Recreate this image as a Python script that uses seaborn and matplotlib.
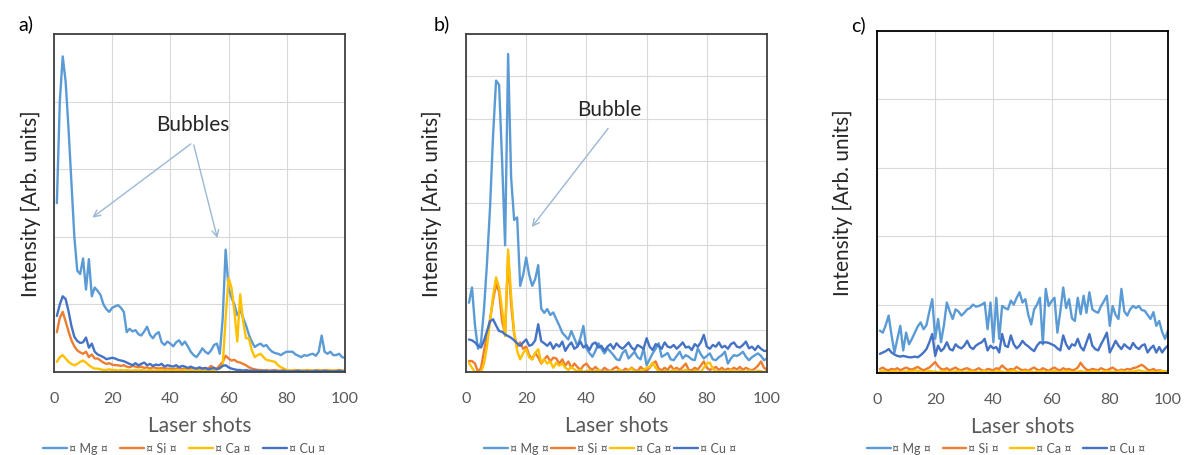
import numpy as np
import pandas as pd
import matplotlib.pyplot as plt
import seaborn as sns
from matplotlib.lines import Line2D

# laser shot index (x) and series
shots = np.arange(1, 101)
elements = ['Mg', 'Si', 'Ca', 'Cu']
legend_labels = ['¤ Mg ¤', '¤ Si ¤', '¤ Ca ¤', '¤ Cu ¤']
colors = ['#5B9BD5', '#ED7D31', '#FFC000', '#4472C4']
x_ticks = [0, 20, 40, 60, 80, 100]

# ---- panel a) ----
mg_a = [2.5, 4.0, 4.67, 4.3, 3.6, 2.8, 2.0, 1.5, 1.45, 1.68,
        1.22, 1.67, 1.12, 1.25, 1.2, 1.14, 1.0, 0.93, 0.89, 0.95,
        0.97, 0.99, 0.95, 0.89, 0.59, 0.64, 0.6, 0.62, 0.56, 0.54,
        0.6, 0.67, 0.55, 0.5, 0.56, 0.59, 0.44, 0.4, 0.45, 0.42,
        0.38, 0.44, 0.47, 0.4, 0.45, 0.38, 0.3, 0.25, 0.22, 0.28,
        0.35, 0.3, 0.27, 0.32, 0.4, 0.42, 0.27, 0.8, 1.81, 1.24,
        1.1, 1.0, 0.84, 0.92, 0.8, 0.69, 0.55, 0.45, 0.37, 0.4,
        0.42, 0.38, 0.4, 0.34, 0.3, 0.28, 0.27, 0.25, 0.28, 0.3,
        0.3, 0.3, 0.26, 0.24, 0.22, 0.25, 0.24, 0.26, 0.27, 0.24,
        0.3, 0.54, 0.3, 0.27, 0.3, 0.25, 0.25, 0.27, 0.22, 0.21]
si_a = [0.59, 0.8, 0.89, 0.75, 0.6, 0.47, 0.38, 0.32, 0.29, 0.27,
        0.3, 0.22, 0.26, 0.2, 0.2, 0.17, 0.14, 0.12, 0.13, 0.11,
        0.1, 0.1, 0.09, 0.1, 0.08, 0.07, 0.09, 0.08, 0.07, 0.08,
        0.06, 0.07, 0.05, 0.07, 0.06, 0.05, 0.06, 0.05, 0.05, 0.05,
        0.04, 0.05, 0.06, 0.04, 0.05, 0.04, 0.05, 0.06, 0.04, 0.05,
        0.05, 0.06, 0.05, 0.09, 0.06, 0.05, 0.1, 0.15, 0.24, 0.2,
        0.17, 0.18, 0.15, 0.14, 0.12, 0.1, 0.07, 0.05, 0.04, 0.03,
        0.03, 0.02, 0.03, 0.02, 0.02, 0.03, 0.02, 0.02, 0.03, 0.02,
        0.02, 0.02, 0.03, 0.02, 0.02, 0.02, 0.03, 0.02, 0.02, 0.02,
        0.03, 0.02, 0.02, 0.03, 0.02, 0.02, 0.02, 0.03, 0.02, 0.02]
ca_a = [0.15, 0.22, 0.25, 0.2, 0.15, 0.12, 0.1, 0.12, 0.15, 0.17,
        0.14, 0.1, 0.07, 0.05, 0.05, 0.04, 0.03, 0.03, 0.04, 0.03,
        0.03, 0.02, 0.03, 0.02, 0.03, 0.02, 0.02, 0.03, 0.02, 0.03,
        0.02, 0.02, 0.03, 0.02, 0.02, 0.03, 0.02, 0.02, 0.03, 0.02,
        0.02, 0.03, 0.02, 0.02, 0.03, 0.02, 0.02, 0.02, 0.03, 0.02,
        0.02, 0.03, 0.02, 0.02, 0.03, 0.04, 0.05, 0.1, 0.8, 1.39,
        1.25, 0.9, 0.45, 1.15, 0.75, 0.5, 0.5, 0.32, 0.22, 0.25,
        0.27, 0.22, 0.18, 0.17, 0.16, 0.15, 0.1, 0.07, 0.05, 0.03,
        0.02, 0.02, 0.02, 0.02, 0.02, 0.02, 0.02, 0.02, 0.02, 0.02,
        0.02, 0.02, 0.02, 0.02, 0.02, 0.02, 0.02, 0.02, 0.02, 0.02]
cu_a = [0.83, 1.0, 1.12, 1.08, 0.9, 0.68, 0.52, 0.46, 0.43, 0.44,
        0.51, 0.36, 0.42, 0.3, 0.26, 0.24, 0.22, 0.19, 0.2, 0.21,
        0.2, 0.18, 0.17, 0.16, 0.14, 0.12, 0.1, 0.13, 0.1, 0.12,
        0.14, 0.1, 0.12, 0.09, 0.11, 0.1, 0.12, 0.08, 0.1, 0.09,
        0.08, 0.1, 0.07, 0.09, 0.08, 0.06, 0.08, 0.06, 0.05, 0.07,
        0.05, 0.06, 0.04, 0.05, 0.06, 0.04, 0.06, 0.09, 0.1, 0.07,
        0.05, 0.04, 0.03, 0.03, 0.02, 0.03, 0.02, 0.02, 0.02, 0.02,
        0.01, 0.02, 0.01, 0.01, 0.02, 0.01, 0.01, 0.01, 0.02, 0.01,
        0.01, 0.01, 0.01, 0.02, 0.01, 0.01, 0.01, 0.01, 0.01, 0.02,
        0.01, 0.01, 0.02, 0.01, 0.01, 0.01, 0.01, 0.02, 0.01, 0.01]

# ---- panel b) ----
mg_b = [1.64, 2.0, 1.1, 0.55, 0.7, 1.5, 2.6, 3.9, 5.6, 6.9,
        6.8, 5.0, 3.0, 7.53, 4.6, 3.6, 3.66, 2.04, 2.3, 2.71,
        2.3, 2.04, 2.2, 2.53, 1.5, 1.4, 1.49, 1.35, 1.41, 1.25,
        1.1, 0.93, 0.85, 0.77, 0.97, 0.8, 0.62, 0.8, 1.09, 0.56,
        0.45, 0.36, 0.5, 0.68, 0.55, 0.44, 0.56, 0.48, 0.4, 0.3,
        0.28, 0.45, 0.52, 0.32, 0.4, 0.48, 0.35, 0.3, 0.56, 0.16,
        0.3, 0.44, 0.55, 0.68, 0.36, 0.4, 0.45, 0.3, 0.28, 0.38,
        0.48, 0.32, 0.4, 0.36, 0.3, 0.28, 0.56, 0.42, 0.32, 0.38,
        0.44, 0.3, 0.28, 0.35, 0.4, 0.48, 0.2, 0.32, 0.4, 0.38,
        0.42, 0.48, 0.36, 0.28, 0.35, 0.4, 0.44, 0.38, 0.28, 0.32]
si_b = [0.26, 0.26, 0.2, 0.0, 0.1, 0.5, 0.9, 1.25, 1.7, 2.08,
        1.9, 1.2, 0.9, 2.75, 1.6, 0.9, 0.6, 0.7, 0.55, 0.6,
        0.4, 0.3, 0.45, 0.35, 0.2, 0.3, 0.38, 0.25, 0.34, 0.32,
        0.2, 0.3, 0.15, 0.25, 0.1, 0.2, 0.12, 0.05, 0.15, 0.2,
        0.1, 0.05, 0.12, 0.05, 0.02, 0.1, 0.05, 0.02, 0.08, 0.12,
        0.05, 0.02, 0.08, 0.04, 0.1, 0.05, 0.02, 0.12, 0.06, 0.03,
        0.1, 0.2, 0.25, 0.08, 0.04, 0.1, 0.05, 0.15, 0.06, 0.1,
        0.05, 0.12, 0.2, 0.05, 0.04, 0.1, 0.06, 0.15, 0.25, 0.1,
        0.05, 0.08, 0.12, 0.05, 0.1, 0.04, 0.08, 0.05, 0.1, 0.06,
        0.12, 0.05, 0.1, 0.06, 0.04, 0.08, 0.15, 0.25, 0.1, 0.05]
ca_b = [0.22, 0.1, 0.0, 0.0, 0.0, 0.2, 0.62, 1.2, 1.8, 2.24,
        2.0, 1.49, 0.85, 2.9, 1.8, 0.93, 0.5, 0.3, 0.45, 0.54,
        0.35, 0.3, 0.45, 0.54, 0.22, 0.3, 0.2, 0.25, 0.1, 0.22,
        0.15, 0.2, 0.1, 0.05, 0.12, 0.06, 0.02, 0.05, 0.0, 0.02,
        0.04, 0.0, 0.02, 0.05, 0.0, 0.02, 0.0, 0.03, 0.0, 0.02,
        0.05, 0.02, 0.0, 0.04, 0.08, 0.02, 0.0, 0.03, 0.05, 0.1,
        0.12, 0.22, 0.1, 0.02, 0.0, 0.03, 0.0, 0.02, 0.05, 0.02,
        0.0, 0.03, 0.05, 0.02, 0.0, 0.04, 0.02, 0.0, 0.1, 0.2,
        0.22, 0.08, 0.02, 0.0, 0.03, 0.02, 0.0, 0.05, 0.02, 0.0,
        0.03, 0.02, 0.0, 0.04, 0.02, 0.0, 0.03, 0.02, 0.0, 0.02]
cu_b = [0.77, 0.75, 0.7, 0.62, 0.58, 0.75, 0.97, 1.2, 1.25, 1.1,
        0.97, 0.95, 0.89, 0.85, 0.81, 0.75, 0.68, 0.62, 0.7, 0.77,
        0.62, 0.65, 0.75, 1.13, 0.73, 0.68, 0.62, 0.7, 0.55, 0.66,
        0.6, 0.72, 0.5, 0.62, 0.7, 0.55, 0.6, 0.72, 0.58, 0.64,
        0.52, 0.66, 0.7, 0.58, 0.62, 0.5, 0.6, 0.66, 0.55, 0.68,
        0.6, 0.55, 0.62, 0.7, 0.58, 0.52, 0.64, 0.6, 0.55, 0.8,
        0.6, 0.52, 0.66, 0.62, 0.55, 0.7, 0.6, 0.58, 0.64, 0.55,
        0.62, 0.7, 0.58, 0.6, 0.52, 0.66, 0.6, 0.7, 0.88, 0.6,
        0.55, 0.64, 0.6, 0.7, 0.58, 0.62, 0.55, 0.66, 0.7, 0.6,
        0.58, 0.64, 0.72, 0.56, 0.6, 0.52, 0.62, 0.55, 0.5, 0.5]

# ---- panel c) ----
mg_c = [0.62, 0.59, 0.7, 0.84, 0.55, 0.3, 0.5, 0.69, 0.33, 0.59,
        0.42, 0.5, 0.59, 0.68, 0.74, 0.64, 0.7, 0.9, 1.08, 0.5,
        0.79, 0.45, 0.7, 1.03, 0.9, 0.79, 0.93, 0.9, 0.84, 0.88,
        0.93, 0.95, 1.0, 0.97, 0.98, 1.0, 1.03, 0.64, 1.03, 0.45,
        1.1, 0.5, 0.98, 0.95, 0.93, 1.06, 1.0, 1.1, 1.18, 1.03,
        1.08, 0.85, 0.71, 0.93, 1.0, 1.1, 0.42, 1.23, 0.98, 1.05,
        1.1, 0.59, 0.9, 1.25, 0.95, 1.08, 0.8, 0.76, 1.1, 0.86,
        1.13, 0.88, 1.18, 0.93, 0.9, 0.88, 0.98, 1.05, 1.13, 0.69,
        0.98, 0.85, 0.79, 1.23, 0.9, 0.84, 0.93, 0.98, 0.95, 0.98,
        0.92, 0.91, 0.85, 0.79, 0.89, 0.69, 0.76, 0.6, 0.5, 0.62]
si_c = [0.06, 0.08, 0.05, 0.04, 0.06, 0.05, 0.07, 0.04, 0.06, 0.08,
        0.06, 0.05, 0.07, 0.09, 0.06, 0.04, 0.06, 0.08, 0.12, 0.16,
        0.1, 0.06, 0.05, 0.07, 0.04, 0.06, 0.08, 0.05, 0.04, 0.06,
        0.07, 0.05, 0.03, 0.05, 0.07, 0.04, 0.03, 0.06, 0.05, 0.04,
        0.07, 0.06, 0.11, 0.07, 0.04, 0.06, 0.05, 0.09, 0.06, 0.04,
        0.05, 0.03, 0.06, 0.08, 0.05, 0.04, 0.07, 0.05, 0.03, 0.06,
        0.08, 0.05, 0.04, 0.07, 0.05, 0.06, 0.04, 0.05, 0.08, 0.15,
        0.09, 0.05, 0.04, 0.06, 0.05, 0.04, 0.07, 0.05, 0.04, 0.06,
        0.08, 0.05, 0.03, 0.05, 0.04, 0.06, 0.05, 0.07, 0.08, 0.1,
        0.12, 0.09, 0.05, 0.04, 0.06, 0.03, 0.04, 0.03, 0.02, 0.02]
ca_c = [0.02, 0.03, 0.02, 0.01, 0.02, 0.03, 0.02, 0.01, 0.02, 0.02,
        0.03, 0.02, 0.04, 0.03, 0.02, 0.01, 0.02, 0.03, 0.02, 0.02,
        0.01, 0.02, 0.03, 0.02, 0.01, 0.02, 0.02, 0.03, 0.02, 0.01,
        0.02, 0.03, 0.02, 0.02, 0.01, 0.02, 0.03, 0.02, 0.01, 0.02,
        0.02, 0.03, 0.02, 0.01, 0.02, 0.03, 0.04, 0.02, 0.01, 0.02,
        0.03, 0.02, 0.02, 0.01, 0.02, 0.03, 0.02, 0.01, 0.02, 0.02,
        0.03, 0.02, 0.01, 0.02, 0.03, 0.02, 0.02, 0.01, 0.02, 0.03,
        0.02, 0.01, 0.02, 0.02, 0.03, 0.02, 0.01, 0.02, 0.03, 0.02,
        0.02, 0.01, 0.02, 0.03, 0.02, 0.01, 0.02, 0.02, 0.03, 0.04,
        0.03, 0.02, 0.01, 0.02, 0.02, 0.01, 0.02, 0.03, 0.02, 0.02]
cu_c = [0.28, 0.3, 0.32, 0.35, 0.3, 0.27, 0.25, 0.24, 0.25, 0.24,
        0.23, 0.23, 0.24, 0.23, 0.26, 0.3, 0.35, 0.45, 0.57, 0.25,
        0.4, 0.32, 0.36, 0.45, 0.35, 0.33, 0.42, 0.38, 0.36, 0.4,
        0.47, 0.38, 0.35, 0.4, 0.43, 0.45, 0.5, 0.33, 0.4, 0.36,
        0.38, 0.3, 0.57, 0.4, 0.38, 0.55, 0.42, 0.36, 0.4, 0.47,
        0.42, 0.39, 0.35, 0.32, 0.4, 0.45, 0.44, 0.45, 0.44, 0.42,
        0.4, 0.36, 0.33, 0.55, 0.42, 0.35, 0.42, 0.4, 0.5, 0.38,
        0.33, 0.45, 0.57, 0.4, 0.35, 0.33, 0.42, 0.5, 0.59, 0.3,
        0.38, 0.47, 0.4, 0.35, 0.42, 0.38, 0.35, 0.44, 0.38, 0.35,
        0.4, 0.42, 0.3, 0.36, 0.4, 0.3, 0.38, 0.3, 0.36, 0.4]

sns.set_style("white")
plt.rcParams['font.family'] = ['Lato', 'DejaVu Sans']

fig = plt.figure(figsize=(11.89, 4.56), dpi=100)

panels = [
    dict(tag='a)', rect=[0.0454, 0.182, 0.2447, 0.741], ymax=5,
         series=[mg_a, si_a, ca_a, cu_a], spine='#404040', ylpad=9,
         tag_xy=(0.0155, 0.947), leg_x=0.155, colsp=1.0),
    dict(tag='b)', rect=[0.3919, 0.182, 0.2532, 0.741], ymax=8,
         series=[mg_b, si_b, ca_b, cu_b], spine='#404040', ylpad=17,
         tag_xy=(0.3650, 0.947), leg_x=0.513, colsp=0.2),
    dict(tag='c)', rect=[0.7376, 0.1798, 0.2447, 0.75], ymax=5,
         series=[mg_c, si_c, ca_c, cu_c], spine='#000000', ylpad=17,
         tag_xy=(0.7160, 0.945), leg_x=0.846, colsp=0.9),
]

axes = []
for p in panels:
    ax = fig.add_axes(p['rect'])
    df = pd.DataFrame({'shot': shots})
    for el, vals in zip(elements, p['series']):
        df[el] = vals
    df = df.melt(id_vars='shot', var_name='element', value_name='intensity')
    sns.lineplot(data=df, x='shot', y='intensity', hue='element',
                 hue_order=elements, palette=colors, linewidth=1.7,
                 estimator=None, errorbar=None, legend=False, ax=ax)
    for ln in ax.lines:
        ln.set_solid_joinstyle('round')
    ax.set_xlim(0, 100)
    ax.set_ylim(0, p['ymax'])
    ax.set_xticks(x_ticks)
    ax.set_yticks(range(p['ymax'] + 1))
    ax.tick_params(axis='x', length=0, pad=14, labelsize=11.5, labelcolor='#595959')
    ax.tick_params(axis='y', length=0, labelleft=False)
    ax.grid(True, color='#D9D9D9', linewidth=0.8)
    for s in ax.spines.values():
        s.set_color(p['spine'])
        s.set_linewidth(1.3)
    ax.set_xlabel('Laser shots', fontsize=15, color='#595959', labelpad=7)
    ax.set_ylabel('Intensity [Arb. units]', fontsize=15, color='#262626',
                  labelpad=p['ylpad'])
    fig.text(p['tag_xy'][0], p['tag_xy'][1], p['tag'], fontsize=14,
             ha='left', va='center', color='black')
    handles = [Line2D([], [], color=c, linewidth=1.7) for c in colors]
    fig.legend(handles, legend_labels, loc='center',
               bbox_to_anchor=(p['leg_x'], 1 - 449 / 456), ncol=4,
               frameon=False, fontsize=9, handlelength=1.9,
               handletextpad=0.15, columnspacing=p['colsp'],
               labelcolor='#595959')
    axes.append(ax)

arrow_kw = dict(arrowstyle='->', color='#9DB8D4', lw=1.0, mutation_scale=12)

ax_a = axes[0]
ax_a.text(47.8, 3.67, 'Bubbles', fontsize=15, ha='center', va='center')
ax_a.annotate('', xy=(12.4, 2.26), xytext=(47.8, 3.40), arrowprops=arrow_kw)
ax_a.annotate('', xy=(56.4, 1.94), xytext=(47.8, 3.40), arrowprops=arrow_kw)

ax_b = axes[1]
ax_b.text(47.5, 6.22, 'Bubble', fontsize=15, ha='center', va='center')
ax_b.annotate('', xy=(21.3, 3.38), xytext=(47.8, 5.82), arrowprops=arrow_kw)

fig.savefig('out.png', dpi=100)
